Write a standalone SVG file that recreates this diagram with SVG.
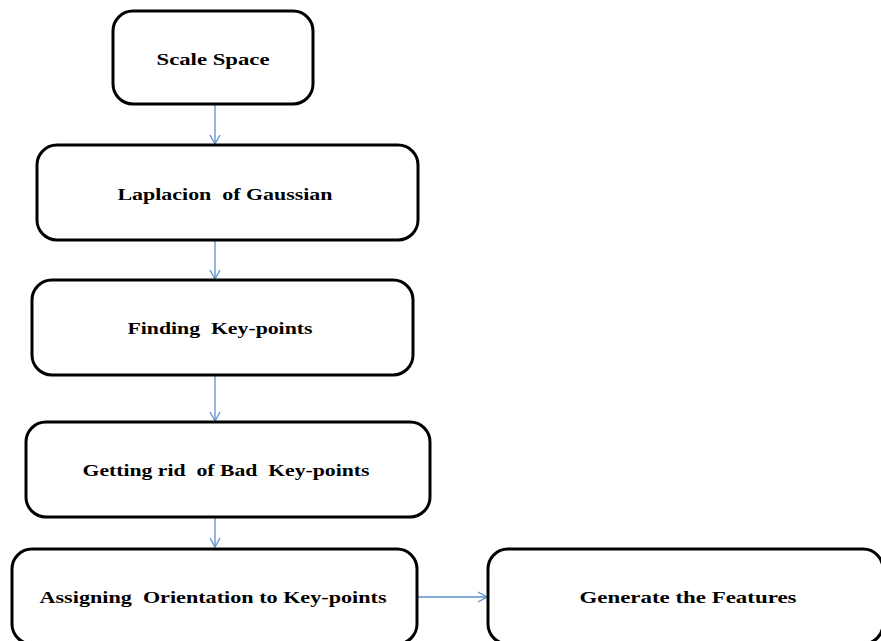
<svg xmlns="http://www.w3.org/2000/svg" width="881" height="641" viewBox="0 0 881 641">
<style>
.box{fill:#fff;stroke:#000;stroke-width:3}
.lbl{font-family:"Liberation Serif","Times New Roman",serif;font-weight:bold;font-size:17px;fill:#000;text-anchor:middle;white-space:pre}
.con{stroke:#5b8fd0;stroke-width:1.3;fill:none}
</style>
<defs>
<marker id="arr" markerWidth="12" markerHeight="12" refX="10" refY="6" orient="auto" markerUnits="userSpaceOnUse">
<path d="M1,1 L10,6 L1,11" fill="none" stroke="#5b8fd0" stroke-width="1.3"/>
</marker>
</defs>
<rect width="881" height="641" fill="#fff"/>
<g id="connectors">
<line class="con" x1="215" y1="104" x2="215" y2="144" marker-end="url(#arr)"/>
<line class="con" x1="215" y1="240" x2="215" y2="279" marker-end="url(#arr)"/>
<line class="con" x1="215" y1="375" x2="215" y2="421" marker-end="url(#arr)"/>
<line class="con" x1="215" y1="517" x2="215" y2="547" marker-end="url(#arr)"/>
<line class="con" x1="418" y1="597" x2="487" y2="597" marker-end="url(#arr)"/>
</g>
<g id="n1"><rect class="box" x="113" y="11" width="200" height="93" rx="20"/><text class="lbl" x="213" y="65" textLength="113" lengthAdjust="spacingAndGlyphs">Scale Space</text></g>
<g id="n2"><rect class="box" x="37" y="145" width="381" height="95" rx="20"/><text class="lbl" x="225" y="200" textLength="215" lengthAdjust="spacingAndGlyphs">Laplacion  of Gaussian</text></g>
<g id="n3"><rect class="box" x="32" y="280" width="381" height="95" rx="20"/><text class="lbl" x="220" y="334" textLength="185" lengthAdjust="spacingAndGlyphs">Finding  Key-points</text></g>
<g id="n4"><rect class="box" x="26" y="422" width="404" height="95" rx="20"/><text class="lbl" x="226" y="476" textLength="287" lengthAdjust="spacingAndGlyphs">Getting rid  of Bad  Key-points</text></g>
<g id="n5"><rect class="box" x="12" y="549" width="405" height="95" rx="20"/><text class="lbl" x="213" y="603" textLength="347" lengthAdjust="spacingAndGlyphs">Assigning  Orientation to Key-points</text></g>
<g id="n6"><rect class="box" x="488" y="549" width="395" height="95" rx="20"/><text class="lbl" x="688" y="603" textLength="217" lengthAdjust="spacingAndGlyphs">Generate the Features</text></g>
</svg>
